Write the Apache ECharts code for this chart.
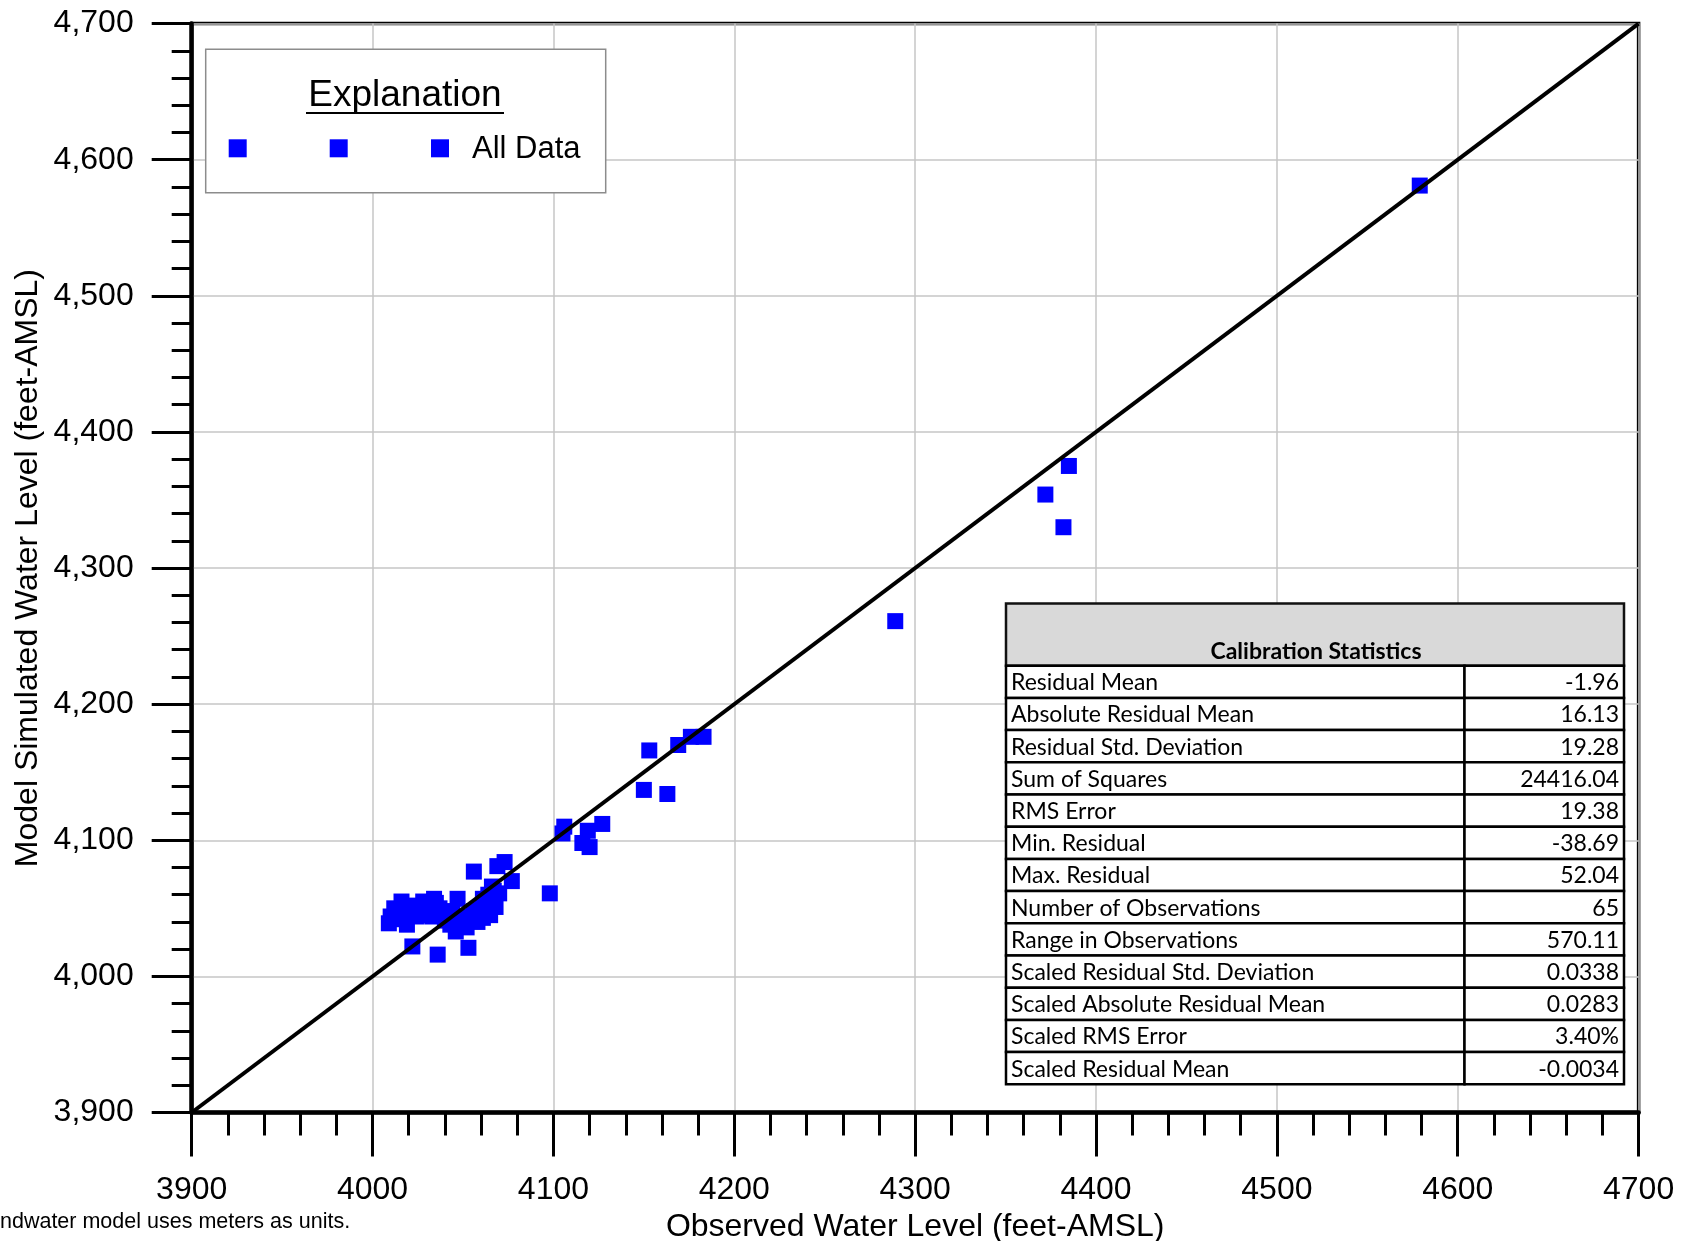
<!DOCTYPE html>
<html><head><meta charset="utf-8">
<script src="https://cdn.jsdelivr.net/npm/echarts@6/dist/echarts.min.js"></script>
<style>html,body{margin:0;padding:0;background:#fff}#c{width:1684px;height:1241px}</style>
</head><body><div id="c"></div>
<script>
// ---- data ----
const observed = [4579, 4385, 4372, 4382, 4289,
  4153, 4169, 4176, 4183, 4150, 4163, 4127, 4119, 4116, 4120, 4106, 4105, 4098,
  4056, 4069, 4073, 4077, 4047, 4034, 4016, 4023, 4010, 4009, 4019, 4026, 4037, 4040,
  4058, 4065, 4068, 4070, 4066, 4061, 4046, 4022, 4036, 4053, 4043, 4050,
  4028, 4031, 4013, 4018, 4024, 4030, 4035, 4039, 4044, 4055, 4060, 4063, 4052, 4048,
  4067, 4064, 4028, 4012, 4056, 4061, 4033];
const simulated = [4581, 4375, 4354, 4330, 4261,
  4166, 4170, 4176, 4176, 4137, 4134, 4112, 4107, 4098, 4095, 4110, 4105, 4061,
  4077, 4081, 4084, 4070, 4057, 4057, 4055, 4052, 4044, 4039, 4038, 4045, 4050, 4041,
  4040, 4045, 4051, 4061, 4066, 4057, 4033, 4022, 4016, 4021, 4038, 4043,
  4048, 4047, 4042, 4047, 4044, 4051, 4054, 4048, 4046, 4044, 4049, 4053, 4036, 4038,
  4063, 4060, 4055, 4050, 4048, 4043, 4044];
const oneToOne = [3900, 4700];
const axisMin = 3900, axisMax = 4700, axisStep = 100;
const statNames = ['Residual Mean', 'Absolute Residual Mean', 'Residual Std. Deviation', 'Sum of Squares',
  'RMS Error', 'Min. Residual', 'Max. Residual', 'Number of Observations', 'Range in Observations',
  'Scaled Residual Std. Deviation', 'Scaled Absolute Residual Mean', 'Scaled RMS Error', 'Scaled Residual Mean'];
const statValues = ['-1.96', '16.13', '19.28', '24416.04', '19.38', '-38.69', '52.04', '65', '570.11',
  '0.0338', '0.0283', '3.40%', '-0.0034'];
const tableTitle = 'Calibration Statistics';
const legendTitle = 'Explanation';
const seriesName = 'All Data';
const xTitle = 'Observed Water Level (feet-AMSL)';
const yTitle = 'Model Simulated Water Level (feet-AMSL)';
const footnote = 'ndwater model uses meters as units.';

// ---- layout ----
const G = {left: 191.7, top: 23.6, right: 1638.6, bottom: 1112.5};
const AF = 'Liberation Sans, Arial, sans-serif';
const TF = 'Lato, Carlito, sans-serif';

function txt(text, x, y, font, align, valign, extra) {
  return Object.assign({type: 'text', x: x, y: y, z: 100,
    style: {text: text, font: font, fill: '#000', align: align, verticalAlign: valign,
      textAlign: align, textVerticalAlign: valign}}, extra || {});
}

const graphics = [];
// legend box
graphics.push({type: 'rect', z: 90, shape: {x: 205.7, y: 49.3, width: 400, height: 143.4},
  style: {fill: '#fff', stroke: '#8c8c8c', lineWidth: 1.5}});
graphics.push(txt(legendTitle, 405, 96, '37px ' + AF, 'center', 'middle'));
graphics.push({type: 'line', z: 100, shape: {x1: 306, y1: 113, x2: 504, y2: 113}, style: {stroke: '#000', lineWidth: 2}});
[237.7, 338.7, 440].forEach(function (cx) {
  graphics.push({type: 'rect', z: 100, shape: {x: cx - 9, y: 148.3 - 9, width: 18, height: 18}, style: {fill: '#0000ff'}});
});
graphics.push(txt(seriesName, 472, 149, '31px ' + AF, 'left', 'middle'));

// calibration table
const TL = 1006, TR = 1624, TS = 1464.5, TT = 603.5, HB = 665.7, RH = 32.2;
graphics.push({type: 'rect', z: 90, shape: {x: TL, y: TT, width: TR - TL, height: HB - TT},
  style: {fill: '#d9d9d9', stroke: '#111', lineWidth: 2.5}});
graphics.push(txt(tableTitle, (TL + TR) / 2 + 1, 652, 'bold 23px ' + TF, 'center', 'middle'));
statNames.forEach(function (name, i) {
  const y = HB + RH * i;
  graphics.push({type: 'rect', z: 90, shape: {x: TL, y: y, width: TS - TL, height: RH},
    style: {fill: '#fff', stroke: '#000', lineWidth: 2.5}});
  graphics.push({type: 'rect', z: 90, shape: {x: TS, y: y, width: TR - TS, height: RH},
    style: {fill: '#fff', stroke: '#000', lineWidth: 2.5}});
  graphics.push(txt(name, TL + 5, y + RH / 2 + 1, '23px ' + TF, 'left', 'middle'));
  graphics.push(txt(statValues[i], TR - 5, y + RH / 2 + 1, '23px ' + TF, 'right', 'middle'));
});

// axis titles and footnote
graphics.push(txt(xTitle, (G.left + G.right) / 2, 1227, '32px ' + AF, 'center', 'middle'));
graphics.push(txt(yTitle, 0, 0, '32px ' + AF, 'center', 'middle', {x: 28, y: (G.top + G.bottom) / 2, rotation: Math.PI / 2}));
graphics.push(txt(footnote, 0, 1222, '21.5px ' + AF, 'left', 'middle'));

function axisCommon(tickLen, minorLen, fmt, margin, pad) {
  return {
    type: 'value', min: axisMin, max: axisMax, interval: axisStep,
    axisLine: {show: true, lineStyle: {color: '#000', width: 4.5}},
    axisTick: {show: true, length: tickLen, lineStyle: {color: '#000', width: 3}},
    minorTick: {show: true, splitNumber: 5, length: minorLen, lineStyle: {color: '#000', width: 3}},
    splitLine: {show: true, lineStyle: {color: '#c6c6c6', width: 1.5}},
    axisLabel: {fontSize: 32, color: '#000', fontFamily: AF, margin: margin, padding: pad, formatter: fmt}
  };
}

const chart = echarts.init(document.getElementById('c'), null, {renderer: 'canvas'});
chart.setOption({
  animation: false,
  backgroundColor: '#fff',
  grid: {left: G.left, top: G.top, width: G.right - G.left, height: G.bottom - G.top,
    show: true, borderColor: '#000', borderWidth: 3.5, backgroundColor: 'transparent'},
  xAxis: axisCommon(44, 23, function (v) { return String(v); }, 62, 0),
  yAxis: axisCommon(40, 20, function (v) { return v.toLocaleString('en-US'); }, 58, [4, 0, 0, 0]),
  series: [
    {name: seriesName, type: 'scatter', symbol: 'rect', symbolSize: 16, z: 2,
      itemStyle: {color: '#0000ff', opacity: 1},
      data: observed.map(function (x, i) { return [x, simulated[i]]; })},
    {name: '1:1', type: 'line', symbol: 'none', z: 3, silent: true,
      lineStyle: {color: '#000', width: 4},
      data: oneToOne.map(function (v) { return [v, v]; })}
  ],
  graphic: graphics
});
</script>
</body></html>
